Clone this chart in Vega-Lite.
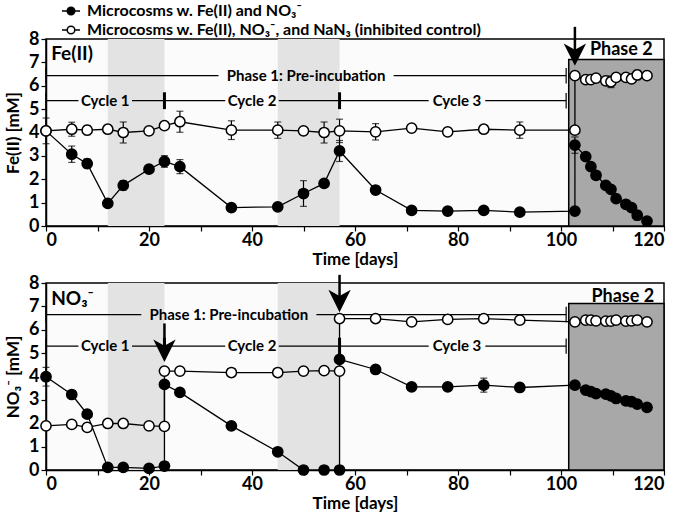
{
  "$schema": "https://vega.github.io/schema/vega-lite/v6.json",
  "padding": {"left": 3, "top": 0, "right": 5, "bottom": 5},
  "datasets": {
    "fe": [
      {"series": "Microcosms w. Fe(II) and NO₃⁻", "i": 1, "day": 0, "conc": 4.07},
      {"series": "Microcosms w. Fe(II) and NO₃⁻", "i": 2, "day": 5, "conc": 3.07, "err": 0.35},
      {"series": "Microcosms w. Fe(II) and NO₃⁻", "i": 3, "day": 8, "conc": 2.67, "err": 0.2},
      {"series": "Microcosms w. Fe(II) and NO₃⁻", "i": 4, "day": 12, "conc": 0.97},
      {"series": "Microcosms w. Fe(II) and NO₃⁻", "i": 5, "day": 15, "conc": 1.74, "err": 0.2},
      {"series": "Microcosms w. Fe(II) and NO₃⁻", "i": 6, "day": 20, "conc": 2.43},
      {"series": "Microcosms w. Fe(II) and NO₃⁻", "i": 7, "day": 23, "conc": 2.76, "err": 0.25},
      {"series": "Microcosms w. Fe(II) and NO₃⁻", "i": 8, "day": 26, "conc": 2.54, "err": 0.3},
      {"series": "Microcosms w. Fe(II) and NO₃⁻", "i": 9, "day": 36, "conc": 0.79},
      {"series": "Microcosms w. Fe(II) and NO₃⁻", "i": 10, "day": 45, "conc": 0.82, "err": 0.1},
      {"series": "Microcosms w. Fe(II) and NO₃⁻", "i": 11, "day": 50, "conc": 1.39, "err": 0.55},
      {"series": "Microcosms w. Fe(II) and NO₃⁻", "i": 12, "day": 54, "conc": 1.82},
      {"series": "Microcosms w. Fe(II) and NO₃⁻", "i": 13, "day": 57, "conc": 3.21, "err": 0.45},
      {"series": "Microcosms w. Fe(II) and NO₃⁻", "i": 14, "day": 64, "conc": 1.54},
      {"series": "Microcosms w. Fe(II) and NO₃⁻", "i": 15, "day": 71, "conc": 0.67},
      {"series": "Microcosms w. Fe(II) and NO₃⁻", "i": 16, "day": 78, "conc": 0.64},
      {"series": "Microcosms w. Fe(II) and NO₃⁻", "i": 17, "day": 85, "conc": 0.67},
      {"series": "Microcosms w. Fe(II) and NO₃⁻", "i": 18, "day": 92, "conc": 0.59},
      {"series": "Microcosms w. Fe(II) and NO₃⁻", "i": 19, "day": 102.7, "conc": 0.64},
      {"series": "Microcosms w. Fe(II) and NO₃⁻", "i": 20, "day": 102.7, "conc": 3.46, "err": 0.35},
      {"series": "Microcosms w. Fe(II) and NO₃⁻", "i": 21, "day": 104.8, "conc": 2.97},
      {"series": "Microcosms w. Fe(II) and NO₃⁻", "i": 22, "day": 105.8, "conc": 2.54},
      {"series": "Microcosms w. Fe(II) and NO₃⁻", "i": 23, "day": 106.8, "conc": 2.17},
      {"series": "Microcosms w. Fe(II) and NO₃⁻", "i": 24, "day": 108.7, "conc": 1.74},
      {"series": "Microcosms w. Fe(II) and NO₃⁻", "i": 25, "day": 109.7, "conc": 1.57},
      {"series": "Microcosms w. Fe(II) and NO₃⁻", "i": 26, "day": 110.7, "conc": 1.17},
      {"series": "Microcosms w. Fe(II) and NO₃⁻", "i": 27, "day": 112.6, "conc": 0.93},
      {"series": "Microcosms w. Fe(II) and NO₃⁻", "i": 28, "day": 113.7, "conc": 0.79},
      {"series": "Microcosms w. Fe(II) and NO₃⁻", "i": 29, "day": 114.8, "conc": 0.46, "err": 0.2},
      {"series": "Microcosms w. Fe(II) and NO₃⁻", "i": 30, "day": 116.7, "conc": 0.21},
      {"series": "Microcosms w. Fe(II), NO₃⁻, and NaN₃ (inhibited control)", "i": 1, "day": 0, "conc": 4.07, "err": 0.55},
      {"series": "Microcosms w. Fe(II), NO₃⁻, and NaN₃ (inhibited control)", "i": 2, "day": 5, "conc": 4.14, "err": 0.3},
      {"series": "Microcosms w. Fe(II), NO₃⁻, and NaN₃ (inhibited control)", "i": 3, "day": 8, "conc": 4.1, "err": 0.2},
      {"series": "Microcosms w. Fe(II), NO₃⁻, and NaN₃ (inhibited control)", "i": 4, "day": 12, "conc": 4.14},
      {"series": "Microcosms w. Fe(II), NO₃⁻, and NaN₃ (inhibited control)", "i": 5, "day": 15, "conc": 4.0, "err": 0.45},
      {"series": "Microcosms w. Fe(II), NO₃⁻, and NaN₃ (inhibited control)", "i": 6, "day": 20, "conc": 4.07},
      {"series": "Microcosms w. Fe(II), NO₃⁻, and NaN₃ (inhibited control)", "i": 7, "day": 23, "conc": 4.29, "err": 0.1},
      {"series": "Microcosms w. Fe(II), NO₃⁻, and NaN₃ (inhibited control)", "i": 8, "day": 26, "conc": 4.46, "err": 0.45},
      {"series": "Microcosms w. Fe(II), NO₃⁻, and NaN₃ (inhibited control)", "i": 9, "day": 36, "conc": 4.1, "err": 0.4},
      {"series": "Microcosms w. Fe(II), NO₃⁻, and NaN₃ (inhibited control)", "i": 10, "day": 45, "conc": 4.1, "err": 0.35},
      {"series": "Microcosms w. Fe(II), NO₃⁻, and NaN₃ (inhibited control)", "i": 11, "day": 50, "conc": 4.07},
      {"series": "Microcosms w. Fe(II), NO₃⁻, and NaN₃ (inhibited control)", "i": 12, "day": 54, "conc": 4.0, "err": 0.45},
      {"series": "Microcosms w. Fe(II), NO₃⁻, and NaN₃ (inhibited control)", "i": 13, "day": 57, "conc": 4.07, "err": 0.5},
      {"series": "Microcosms w. Fe(II), NO₃⁻, and NaN₃ (inhibited control)", "i": 14, "day": 64, "conc": 4.03, "err": 0.35},
      {"series": "Microcosms w. Fe(II), NO₃⁻, and NaN₃ (inhibited control)", "i": 15, "day": 71, "conc": 4.19},
      {"series": "Microcosms w. Fe(II), NO₃⁻, and NaN₃ (inhibited control)", "i": 16, "day": 78, "conc": 4.03},
      {"series": "Microcosms w. Fe(II), NO₃⁻, and NaN₃ (inhibited control)", "i": 17, "day": 85, "conc": 4.14},
      {"series": "Microcosms w. Fe(II), NO₃⁻, and NaN₃ (inhibited control)", "i": 18, "day": 92, "conc": 4.1, "err": 0.35},
      {"series": "Microcosms w. Fe(II), NO₃⁻, and NaN₃ (inhibited control)", "i": 19, "day": 102.7, "conc": 4.1},
      {"series": "Microcosms w. Fe(II), NO₃⁻, and NaN₃ (inhibited control)", "i": 20, "day": 102.7, "conc": 6.43},
      {"series": "Microcosms w. Fe(II), NO₃⁻, and NaN₃ (inhibited control)", "i": 21, "day": 104.8, "conc": 6.26},
      {"series": "Microcosms w. Fe(II), NO₃⁻, and NaN₃ (inhibited control)", "i": 22, "day": 105.8, "conc": 6.26},
      {"series": "Microcosms w. Fe(II), NO₃⁻, and NaN₃ (inhibited control)", "i": 23, "day": 106.8, "conc": 6.33},
      {"series": "Microcosms w. Fe(II), NO₃⁻, and NaN₃ (inhibited control)", "i": 24, "day": 108.7, "conc": 6.21},
      {"series": "Microcosms w. Fe(II), NO₃⁻, and NaN₃ (inhibited control)", "i": 25, "day": 109.7, "conc": 6.17, "err": 0.25},
      {"series": "Microcosms w. Fe(II), NO₃⁻, and NaN₃ (inhibited control)", "i": 26, "day": 110.7, "conc": 6.36},
      {"series": "Microcosms w. Fe(II), NO₃⁻, and NaN₃ (inhibited control)", "i": 27, "day": 112.6, "conc": 6.36},
      {"series": "Microcosms w. Fe(II), NO₃⁻, and NaN₃ (inhibited control)", "i": 28, "day": 113.7, "conc": 6.29},
      {"series": "Microcosms w. Fe(II), NO₃⁻, and NaN₃ (inhibited control)", "i": 29, "day": 114.8, "conc": 6.46, "err": 0.2},
      {"series": "Microcosms w. Fe(II), NO₃⁻, and NaN₃ (inhibited control)", "i": 30, "day": 116.7, "conc": 6.43}
    ],
    "no3": [
      {"series": "Microcosms w. Fe(II) and NO₃⁻", "i": 1, "day": 0, "conc": 3.99, "err": 0.4},
      {"series": "Microcosms w. Fe(II) and NO₃⁻", "i": 2, "day": 5, "conc": 3.23},
      {"series": "Microcosms w. Fe(II) and NO₃⁻", "i": 3, "day": 8, "conc": 2.39},
      {"series": "Microcosms w. Fe(II) and NO₃⁻", "i": 4, "day": 12, "conc": 0.11},
      {"series": "Microcosms w. Fe(II) and NO₃⁻", "i": 5, "day": 15, "conc": 0.11},
      {"series": "Microcosms w. Fe(II) and NO₃⁻", "i": 6, "day": 20, "conc": 0.07},
      {"series": "Microcosms w. Fe(II) and NO₃⁻", "i": 7, "day": 23, "conc": 0.17},
      {"series": "Microcosms w. Fe(II) and NO₃⁻", "i": 8, "day": 23, "conc": 3.66},
      {"series": "Microcosms w. Fe(II) and NO₃⁻", "i": 9, "day": 26, "conc": 3.32},
      {"series": "Microcosms w. Fe(II) and NO₃⁻", "i": 10, "day": 36, "conc": 1.89},
      {"series": "Microcosms w. Fe(II) and NO₃⁻", "i": 11, "day": 45, "conc": 0.78},
      {"series": "Microcosms w. Fe(II) and NO₃⁻", "i": 12, "day": 50, "conc": 0},
      {"series": "Microcosms w. Fe(II) and NO₃⁻", "i": 13, "day": 54, "conc": 0},
      {"series": "Microcosms w. Fe(II) and NO₃⁻", "i": 14, "day": 57, "conc": 0},
      {"series": "Microcosms w. Fe(II) and NO₃⁻", "i": 15, "day": 57, "conc": 4.73},
      {"series": "Microcosms w. Fe(II) and NO₃⁻", "i": 16, "day": 64, "conc": 4.3, "err": 0.15},
      {"series": "Microcosms w. Fe(II) and NO₃⁻", "i": 17, "day": 71, "conc": 3.56},
      {"series": "Microcosms w. Fe(II) and NO₃⁻", "i": 18, "day": 78, "conc": 3.56},
      {"series": "Microcosms w. Fe(II) and NO₃⁻", "i": 19, "day": 85, "conc": 3.63, "err": 0.3},
      {"series": "Microcosms w. Fe(II) and NO₃⁻", "i": 20, "day": 92, "conc": 3.53},
      {"series": "Microcosms w. Fe(II) and NO₃⁻", "i": 21, "day": 102.7, "conc": 3.63},
      {"series": "Microcosms w. Fe(II) and NO₃⁻", "i": 22, "day": 104.8, "conc": 3.42},
      {"series": "Microcosms w. Fe(II) and NO₃⁻", "i": 23, "day": 105.8, "conc": 3.35},
      {"series": "Microcosms w. Fe(II) and NO₃⁻", "i": 24, "day": 106.8, "conc": 3.27},
      {"series": "Microcosms w. Fe(II) and NO₃⁻", "i": 25, "day": 108.7, "conc": 3.25},
      {"series": "Microcosms w. Fe(II) and NO₃⁻", "i": 26, "day": 109.7, "conc": 3.17},
      {"series": "Microcosms w. Fe(II) and NO₃⁻", "i": 27, "day": 110.7, "conc": 3.06},
      {"series": "Microcosms w. Fe(II) and NO₃⁻", "i": 28, "day": 112.6, "conc": 2.96},
      {"series": "Microcosms w. Fe(II) and NO₃⁻", "i": 29, "day": 113.7, "conc": 2.92},
      {"series": "Microcosms w. Fe(II) and NO₃⁻", "i": 30, "day": 114.8, "conc": 2.82},
      {"series": "Microcosms w. Fe(II) and NO₃⁻", "i": 31, "day": 116.7, "conc": 2.68},
      {"series": "Microcosms w. Fe(II), NO₃⁻, and NaN₃ (inhibited control)", "i": 1, "day": 0, "conc": 1.89},
      {"series": "Microcosms w. Fe(II), NO₃⁻, and NaN₃ (inhibited control)", "i": 2, "day": 5, "conc": 1.95},
      {"series": "Microcosms w. Fe(II), NO₃⁻, and NaN₃ (inhibited control)", "i": 3, "day": 8, "conc": 1.82},
      {"series": "Microcosms w. Fe(II), NO₃⁻, and NaN₃ (inhibited control)", "i": 4, "day": 12, "conc": 1.99},
      {"series": "Microcosms w. Fe(II), NO₃⁻, and NaN₃ (inhibited control)", "i": 5, "day": 15, "conc": 1.99},
      {"series": "Microcosms w. Fe(II), NO₃⁻, and NaN₃ (inhibited control)", "i": 6, "day": 20, "conc": 1.89},
      {"series": "Microcosms w. Fe(II), NO₃⁻, and NaN₃ (inhibited control)", "i": 7, "day": 23, "conc": 1.87},
      {"series": "Microcosms w. Fe(II), NO₃⁻, and NaN₃ (inhibited control)", "i": 8, "day": 23, "conc": 4.23},
      {"series": "Microcosms w. Fe(II), NO₃⁻, and NaN₃ (inhibited control)", "i": 9, "day": 26, "conc": 4.23},
      {"series": "Microcosms w. Fe(II), NO₃⁻, and NaN₃ (inhibited control)", "i": 10, "day": 36, "conc": 4.17},
      {"series": "Microcosms w. Fe(II), NO₃⁻, and NaN₃ (inhibited control)", "i": 11, "day": 45, "conc": 4.17},
      {"series": "Microcosms w. Fe(II), NO₃⁻, and NaN₃ (inhibited control)", "i": 12, "day": 50, "conc": 4.23},
      {"series": "Microcosms w. Fe(II), NO₃⁻, and NaN₃ (inhibited control)", "i": 13, "day": 54, "conc": 4.25},
      {"series": "Microcosms w. Fe(II), NO₃⁻, and NaN₃ (inhibited control)", "i": 14, "day": 57, "conc": 4.23},
      {"series": "Microcosms w. Fe(II), NO₃⁻, and NaN₃ (inhibited control)", "i": 15, "day": 57, "conc": 6.48},
      {"series": "Microcosms w. Fe(II), NO₃⁻, and NaN₃ (inhibited control)", "i": 16, "day": 64, "conc": 6.48},
      {"series": "Microcosms w. Fe(II), NO₃⁻, and NaN₃ (inhibited control)", "i": 17, "day": 71, "conc": 6.34, "err": 0.15},
      {"series": "Microcosms w. Fe(II), NO₃⁻, and NaN₃ (inhibited control)", "i": 18, "day": 78, "conc": 6.44, "err": 0.15},
      {"series": "Microcosms w. Fe(II), NO₃⁻, and NaN₃ (inhibited control)", "i": 19, "day": 85, "conc": 6.48, "err": 0.1},
      {"series": "Microcosms w. Fe(II), NO₃⁻, and NaN₃ (inhibited control)", "i": 20, "day": 92, "conc": 6.41, "err": 0.1},
      {"series": "Microcosms w. Fe(II), NO₃⁻, and NaN₃ (inhibited control)", "i": 21, "day": 102.7, "conc": 6.34},
      {"series": "Microcosms w. Fe(II), NO₃⁻, and NaN₃ (inhibited control)", "i": 22, "day": 104.8, "conc": 6.41},
      {"series": "Microcosms w. Fe(II), NO₃⁻, and NaN₃ (inhibited control)", "i": 23, "day": 105.8, "conc": 6.41},
      {"series": "Microcosms w. Fe(II), NO₃⁻, and NaN₃ (inhibited control)", "i": 24, "day": 106.8, "conc": 6.38},
      {"series": "Microcosms w. Fe(II), NO₃⁻, and NaN₃ (inhibited control)", "i": 25, "day": 108.7, "conc": 6.37},
      {"series": "Microcosms w. Fe(II), NO₃⁻, and NaN₃ (inhibited control)", "i": 26, "day": 109.7, "conc": 6.37},
      {"series": "Microcosms w. Fe(II), NO₃⁻, and NaN₃ (inhibited control)", "i": 27, "day": 110.7, "conc": 6.41},
      {"series": "Microcosms w. Fe(II), NO₃⁻, and NaN₃ (inhibited control)", "i": 28, "day": 112.6, "conc": 6.37},
      {"series": "Microcosms w. Fe(II), NO₃⁻, and NaN₃ (inhibited control)", "i": 29, "day": 113.7, "conc": 6.38},
      {"series": "Microcosms w. Fe(II), NO₃⁻, and NaN₃ (inhibited control)", "i": 30, "day": 114.8, "conc": 6.41},
      {"series": "Microcosms w. Fe(II), NO₃⁻, and NaN₃ (inhibited control)", "i": 31, "day": 116.7, "conc": 6.34}
    ],
    "bands": [{"start": 12, "end": 23}, {"start": 45, "end": 57}],
    "phase2": [{"start": 101.5, "end": 120, "top": 7.12}],
    "segsFe": [
      {"x": 0, "x2": 33.5, "y": 6.43}, {"x": 67.5, "x2": 101, "y": 6.43},
      {"x": 0, "x2": 6.3, "y": 5.36}, {"x": 16.7, "x2": 34.8, "y": 5.36},
      {"x": 45.2, "x2": 74.3, "y": 5.36}, {"x": 85.3, "x2": 101, "y": 5.36}
    ],
    "segsNo3": [
      {"x": 0, "x2": 18.5, "y": 6.65}, {"x": 52.5, "x2": 101, "y": 6.65},
      {"x": 0, "x2": 6.3, "y": 5.3}, {"x": 16.7, "x2": 34.8, "y": 5.3},
      {"x": 45.2, "x2": 74.3, "y": 5.3}, {"x": 85.3, "x2": 101, "y": 5.3}
    ],
    "ticksFe": [
      {"kind": "end", "x": 0, "y1": 6.1, "y2": 6.76}, {"kind": "end", "x": 101, "y1": 6.1, "y2": 6.76},
      {"kind": "end", "x": 0, "y1": 5.03, "y2": 5.69}, {"kind": "end", "x": 101, "y1": 5.03, "y2": 5.69},
      {"kind": "cycle", "x": 23, "y1": 5.0, "y2": 5.72}, {"kind": "cycle", "x": 57, "y1": 5.0, "y2": 5.72}
    ],
    "ticksNo3": [
      {"kind": "end", "x": 0, "y1": 6.32, "y2": 6.98}, {"kind": "end", "x": 101, "y1": 6.32, "y2": 6.98},
      {"kind": "end", "x": 0, "y1": 4.97, "y2": 5.63}, {"kind": "end", "x": 101, "y1": 4.97, "y2": 5.63},
      {"kind": "cycle", "x": 23, "y1": 4.94, "y2": 5.66}, {"kind": "cycle", "x": 57, "y1": 4.94, "y2": 5.66}
    ],
    "arrowsFe": [{"x": 102.7, "top": 8.52, "head": 7.33}],
    "arrowsNo3": [{"x": 23, "top": 6.27, "head": 5.1}, {"x": 57, "top": 8.35, "head": 7.23}],
    "labelsFe": [
      {"kind": "panel", "x": 1, "y": 7.36, "text": "Fe(II)"},
      {"kind": "phase1", "x": 50.5, "y": 6.43, "text": "Phase 1: Pre-incubation"},
      {"kind": "phase1", "x": 11.5, "y": 5.36, "text": "Cycle 1"},
      {"kind": "phase1", "x": 40, "y": 5.36, "text": "Cycle 2"},
      {"kind": "phase1", "x": 79.8, "y": 5.36, "text": "Cycle 3"},
      {"kind": "phase2", "x": 111.7, "y": 7.53, "text": "Phase 2"}
    ],
    "labelsNo3": [
      {"kind": "panel", "x": 1, "y": 7.33, "text": "NO₃⁻"},
      {"kind": "phase1", "x": 35.5, "y": 6.65, "text": "Phase 1: Pre-incubation"},
      {"kind": "phase1", "x": 11.5, "y": 5.3, "text": "Cycle 1"},
      {"kind": "phase1", "x": 40, "y": 5.3, "text": "Cycle 2"},
      {"kind": "phase1", "x": 79.8, "y": 5.3, "text": "Cycle 3"},
      {"kind": "phase2", "x": 112, "y": 7.38, "text": "Phase 2"}
    ]
  },
  "vconcat": [
    {
      "width": 618,
      "height": 187,
      "layer": [
        {"data": {"name": "bands"}, "mark": {"type": "rect", "fill": "#e3e3e3"},
         "encoding": {"x": {"field": "start", "type": "quantitative", "scale": {"domain": [0, 120], "nice": false},
           "axis": {"title": "Time [days]", "tickCount": 12, "labelExpr": "datum.value % 20 == 0 ? datum.label : ''", "labelPadding": 0, "titlePadding": 2}},
           "x2": {"field": "end"}}},
        {"data": {"name": "phase2"}, "mark": {"type": "rect", "fill": "#a8a8a8", "stroke": "black", "strokeWidth": 1.5},
         "encoding": {"x": {"field": "start", "type": "quantitative"}, "x2": {"field": "end"},
           "y": {"field": "top", "type": "quantitative", "scale": {"domain": [0, 8], "nice": false},
             "axis": {"title": "Fe(II) [mM]", "tickCount": 8, "titlePadding": 6, "labelOverlap": false}},
           "y2": {"datum": 0}}},
        {"data": {"name": "segsFe"}, "mark": {"type": "rule", "color": "black", "strokeWidth": 1.2},
         "encoding": {"x": {"field": "x", "type": "quantitative"}, "x2": {"field": "x2"}, "y": {"field": "y", "type": "quantitative"}}},
        {"data": {"name": "ticksFe"}, "transform": [{"filter": "datum.kind == 'end'"}], "mark": {"type": "rule", "color": "black", "strokeWidth": 1.2},
         "encoding": {"x": {"field": "x", "type": "quantitative"}, "y": {"field": "y1", "type": "quantitative"}, "y2": {"field": "y2"}}},
        {"data": {"name": "ticksFe"}, "transform": [{"filter": "datum.kind == 'cycle'"}], "mark": {"type": "rule", "color": "black", "strokeWidth": 3},
         "encoding": {"x": {"field": "x", "type": "quantitative"}, "y": {"field": "y1", "type": "quantitative"}, "y2": {"field": "y2"}}},
        {"data": {"name": "fe"}, "transform": [{"filter": "datum.err > 0"}],
         "mark": {"type": "errorbar", "color": "black", "thickness": 1.2, "ticks": {"size": 7, "color": "black"}},
         "encoding": {"x": {"field": "day", "type": "quantitative", "title": "Time [days]"},
           "y": {"field": "conc", "type": "quantitative", "title": "Fe(II) [mM]"},
           "yError": {"field": "err"}}},
        {"data": {"name": "fe"}, "mark": {"type": "line", "color": "black", "strokeWidth": 1.3},
         "encoding": {"x": {"field": "day", "type": "quantitative"}, "y": {"field": "conc", "type": "quantitative"},
           "detail": {"field": "series"}, "order": {"field": "i", "type": "quantitative"}}},
        {"data": {"name": "fe"}, "mark": {"type": "point", "shape": "circle", "filled": true, "size": 105, "stroke": "black", "strokeWidth": 1.5, "opacity": 1},
         "encoding": {"x": {"field": "day", "type": "quantitative"}, "y": {"field": "conc", "type": "quantitative"},
           "fill": {"field": "series", "type": "nominal",
             "scale": {"domain": ["Microcosms w. Fe(II) and NO₃⁻", "Microcosms w. Fe(II), NO₃⁻, and NaN₃ (inhibited control)"], "range": ["black", "white"]},
             "legend": {"orient": "none", "legendX": 15, "legendY": -38, "title": null, "direction": "vertical",
               "symbolType": "M-1,0 L-0.42,0 M0.42,0 L1,0 M-0.42,0 A0.42,0.42 0 1,1 0.42,0 A0.42,0.42 0 1,1 -0.42,0 Z",
               "symbolSize": 324, "symbolStrokeColor": "black", "symbolStrokeWidth": 1.5, "symbolOpacity": 1,
               "labelFont": "Lato", "labelFontSize": 16, "labelFontWeight": "bold", "labelColor": "black", "labelOffset": 6, "rowPadding": 1, "labelLimit": 600}}}},
        {"data": {"name": "arrowsFe"}, "mark": {"type": "rule", "color": "black", "strokeWidth": 2.5},
         "encoding": {"x": {"field": "x", "type": "quantitative"}, "y": {"field": "top", "type": "quantitative"}, "y2": {"field": "head"}}},
        {"data": {"name": "arrowsFe"}, "mark": {"type": "point", "shape": "M0,1 L-1,-1 L0,-0.45 L1,-1 Z", "filled": true, "color": "black", "size": 500, "opacity": 1},
         "encoding": {"x": {"field": "x", "type": "quantitative"}, "y": {"field": "head", "type": "quantitative"}}},
        {"data": {"name": "labelsFe"}, "transform": [{"filter": "datum.kind == 'panel'"}], "mark": {"type": "text", "align": "left", "baseline": "middle", "fontSize": 19, "fontWeight": "bold", "font": "Lato", "color": "black"},
         "encoding": {"x": {"field": "x", "type": "quantitative"}, "y": {"field": "y", "type": "quantitative"}, "text": {"field": "text"}}},
        {"data": {"name": "labelsFe"}, "transform": [{"filter": "datum.kind == 'phase1'"}], "mark": {"type": "text", "align": "center", "baseline": "middle", "fontSize": 15, "fontWeight": "bold", "font": "Lato", "color": "black"},
         "encoding": {"x": {"field": "x", "type": "quantitative"}, "y": {"field": "y", "type": "quantitative"}, "text": {"field": "text"}}},
        {"data": {"name": "labelsFe"}, "transform": [{"filter": "datum.kind == 'phase2'"}], "mark": {"type": "text", "align": "center", "baseline": "middle", "fontSize": 18, "fontWeight": "bold", "font": "Lato", "color": "black"},
         "encoding": {"x": {"field": "x", "type": "quantitative"}, "y": {"field": "y", "type": "quantitative"}, "text": {"field": "text"}}}
      ]
    },
    {
      "width": 618,
      "height": 187,
      "layer": [
        {"data": {"name": "bands"}, "mark": {"type": "rect", "fill": "#e3e3e3"},
         "encoding": {"x": {"field": "start", "type": "quantitative", "scale": {"domain": [0, 120], "nice": false},
           "axis": {"title": "Time [days]", "tickCount": 12, "labelExpr": "datum.value % 20 == 0 ? datum.label : ''", "labelPadding": 0, "titlePadding": 2}},
           "x2": {"field": "end"}}},
        {"data": {"name": "phase2"}, "mark": {"type": "rect", "fill": "#a8a8a8", "stroke": "black", "strokeWidth": 1.5},
         "encoding": {"x": {"field": "start", "type": "quantitative"}, "x2": {"field": "end"},
           "y": {"field": "top", "type": "quantitative", "scale": {"domain": [0, 8], "nice": false},
             "axis": {"title": "NO₃⁻ [mM]", "tickCount": 8, "titlePadding": 6, "labelOverlap": false}},
           "y2": {"datum": 0}}},
        {"data": {"name": "segsNo3"}, "mark": {"type": "rule", "color": "black", "strokeWidth": 1.2},
         "encoding": {"x": {"field": "x", "type": "quantitative"}, "x2": {"field": "x2"}, "y": {"field": "y", "type": "quantitative"}}},
        {"data": {"name": "ticksNo3"}, "transform": [{"filter": "datum.kind == 'end'"}], "mark": {"type": "rule", "color": "black", "strokeWidth": 1.2},
         "encoding": {"x": {"field": "x", "type": "quantitative"}, "y": {"field": "y1", "type": "quantitative"}, "y2": {"field": "y2"}}},
        {"data": {"name": "ticksNo3"}, "transform": [{"filter": "datum.kind == 'cycle'"}], "mark": {"type": "rule", "color": "black", "strokeWidth": 3},
         "encoding": {"x": {"field": "x", "type": "quantitative"}, "y": {"field": "y1", "type": "quantitative"}, "y2": {"field": "y2"}}},
        {"data": {"name": "no3"}, "transform": [{"filter": "datum.err > 0"}],
         "mark": {"type": "errorbar", "color": "black", "thickness": 1.2, "ticks": {"size": 7, "color": "black"}},
         "encoding": {"x": {"field": "day", "type": "quantitative", "title": "Time [days]"},
           "y": {"field": "conc", "type": "quantitative", "title": "NO₃⁻ [mM]"},
           "yError": {"field": "err"}}},
        {"data": {"name": "no3"}, "mark": {"type": "line", "color": "black", "strokeWidth": 1.3},
         "encoding": {"x": {"field": "day", "type": "quantitative"}, "y": {"field": "conc", "type": "quantitative"},
           "detail": {"field": "series"}, "order": {"field": "i", "type": "quantitative"}}},
        {"data": {"name": "no3"}, "mark": {"type": "point", "shape": "circle", "filled": true, "size": 105, "stroke": "black", "strokeWidth": 1.5, "opacity": 1},
         "encoding": {"x": {"field": "day", "type": "quantitative"}, "y": {"field": "conc", "type": "quantitative"},
           "fill": {"field": "series", "type": "nominal",
             "scale": {"domain": ["Microcosms w. Fe(II) and NO₃⁻", "Microcosms w. Fe(II), NO₃⁻, and NaN₃ (inhibited control)"], "range": ["black", "white"]},
             "legend": null}}},
        {"data": {"name": "arrowsNo3"}, "mark": {"type": "rule", "color": "black", "strokeWidth": 2.5},
         "encoding": {"x": {"field": "x", "type": "quantitative"}, "y": {"field": "top", "type": "quantitative"}, "y2": {"field": "head"}}},
        {"data": {"name": "arrowsNo3"}, "mark": {"type": "point", "shape": "M0,1 L-1,-1 L0,-0.45 L1,-1 Z", "filled": true, "color": "black", "size": 500, "opacity": 1},
         "encoding": {"x": {"field": "x", "type": "quantitative"}, "y": {"field": "head", "type": "quantitative"}}},
        {"data": {"name": "labelsNo3"}, "transform": [{"filter": "datum.kind == 'panel'"}], "mark": {"type": "text", "align": "left", "baseline": "middle", "fontSize": 19, "fontWeight": "bold", "font": "Lato", "color": "black"},
         "encoding": {"x": {"field": "x", "type": "quantitative"}, "y": {"field": "y", "type": "quantitative"}, "text": {"field": "text"}}},
        {"data": {"name": "labelsNo3"}, "transform": [{"filter": "datum.kind == 'phase1'"}], "mark": {"type": "text", "align": "center", "baseline": "middle", "fontSize": 15, "fontWeight": "bold", "font": "Lato", "color": "black"},
         "encoding": {"x": {"field": "x", "type": "quantitative"}, "y": {"field": "y", "type": "quantitative"}, "text": {"field": "text"}}},
        {"data": {"name": "labelsNo3"}, "transform": [{"filter": "datum.kind == 'phase2'"}], "mark": {"type": "text", "align": "center", "baseline": "middle", "fontSize": 18, "fontWeight": "bold", "font": "Lato", "color": "black"},
         "encoding": {"x": {"field": "x", "type": "quantitative"}, "y": {"field": "y", "type": "quantitative"}, "text": {"field": "text"}}}
      ]
    }
  ],
  "spacing": 57,
  "bounds": "flush",
  "resolve": {"scale": {"fill": "independent", "x": "independent", "y": "independent"}, "legend": {"fill": "independent"}},
  "config": {
    "font": "Lato",
    "view": {"fill": "#fbfbfb", "stroke": "black", "strokeWidth": 1.5},
    "axis": {"labelFont": "Lato", "labelFontSize": 18, "labelFontWeight": "bold", "labelColor": "black",
      "titleFont": "Lato", "titleFontSize": 17, "titleFontWeight": "bold", "titleColor": "black",
      "domainColor": "black", "domainWidth": 1.5, "tickColor": "black", "tickWidth": 1.2, "tickSize": 5, "grid": false, "labelOverlap": false},
    "axisY": {"tickCount": 8, "labelOverlap": false},
    "axisX": {"tickCount": 12}
  }
}
